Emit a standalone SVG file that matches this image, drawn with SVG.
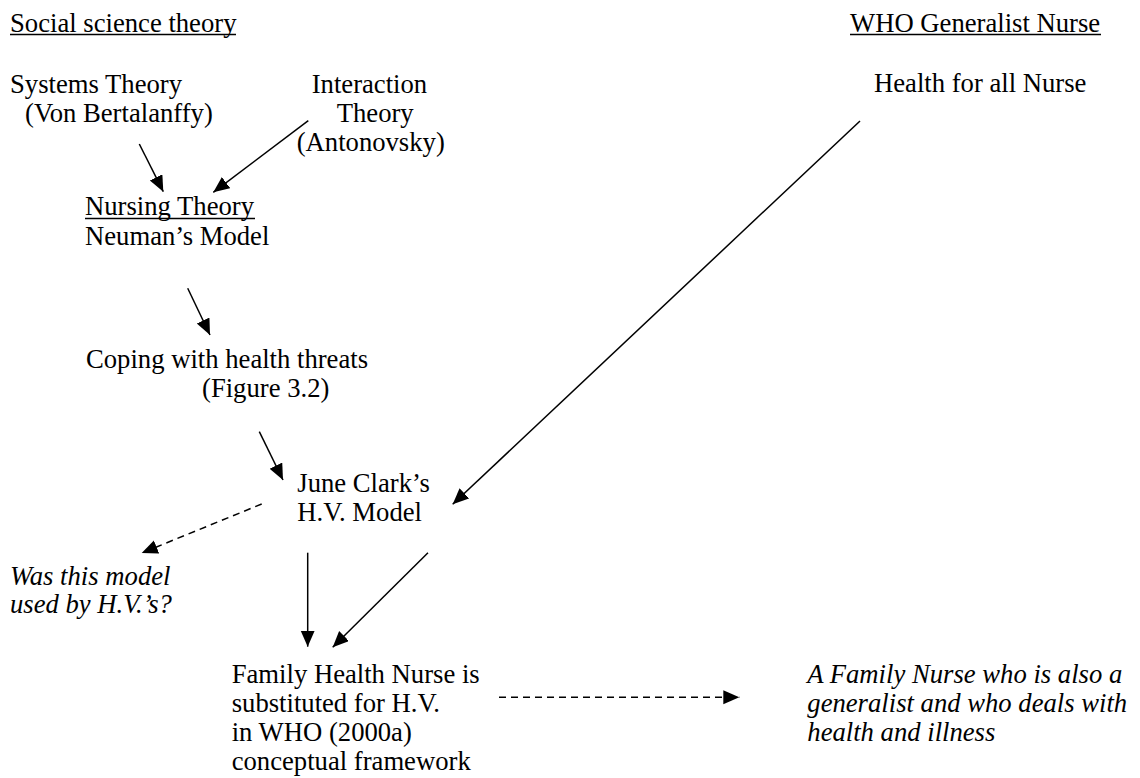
<svg xmlns="http://www.w3.org/2000/svg" width="1140" height="778" viewBox="0 0 1140 778">
<style>
text{font-family:"Liberation Serif","Times New Roman",serif;font-size:26.67px;fill:#000}
.it{font-style:italic}
.ul{stroke:#000;stroke-width:1.4}
.c{stroke:#000;stroke-width:1.5;fill:none}
.d{stroke-dasharray:7 5}
</style>
<defs>
<marker id="ah" markerUnits="userSpaceOnUse" markerWidth="18" markerHeight="16" refX="16" refY="7" orient="auto">
<path d="M0,0 L16,7 L0,14 Z" fill="#000"/>
</marker>
</defs>
<rect width="1140" height="778" fill="#fff"/>
<g id="social">
<text x="10" y="31.5">Social science theory</text>
<line class="ul" x1="10" y1="34.5" x2="236" y2="34.5"/>
</g>
<g id="who">
<text x="850" y="31.5">WHO Generalist Nurse</text>
<line class="ul" x1="850" y1="34.5" x2="1101" y2="34.5"/>
</g>
<g id="systems">
<text x="10" y="92.7">Systems Theory</text>
<text x="25" y="121.7">(Von Bertalanffy)</text>
</g>
<g id="interaction">
<text x="311.7" y="92.7">Interaction</text>
<text x="336.7" y="121.7">Theory</text>
<text x="296.7" y="150.7">(Antonovsky)</text>
</g>
<g id="healthforall">
<text x="874" y="91.5">Health for all Nurse</text>
</g>
<g id="nursing">
<text x="85" y="214.5">Nursing Theory</text>
<line class="ul" x1="85" y1="218.5" x2="255" y2="218.5"/>
<text x="85" y="245">Neuman’s Model</text>
</g>
<g id="coping">
<text x="86" y="368">Coping with health threats</text>
<text x="202" y="397">(Figure 3.2)</text>
</g>
<g id="june">
<text x="297.3" y="491.7">June Clark’s</text>
<text x="297.3" y="521.2">H.V. Model</text>
</g>
<g id="was">
<text class="it" x="10" y="585">Was this model</text>
<text class="it" x="10" y="612.5">used by H.V.’s?</text>
</g>
<g id="family">
<text x="231.7" y="682.7">Family Health Nurse is</text>
<text x="231.7" y="711.7">substituted for H.V.</text>
<text x="231.7" y="740.5">in WHO (2000a)</text>
<text x="231.7" y="769.5">conceptual framework</text>
</g>
<g id="familynurse">
<text class="it" x="807.3" y="682.7">A Family Nurse who is also a</text>
<text class="it" x="807.3" y="711.7">generalist and who deals with</text>
<text class="it" x="807.3" y="740.5">health and illness</text>
</g>
<g id="connectors">
<line class="c" x1="139.3" y1="144" x2="163.3" y2="191.7" marker-end="url(#ah)"/>
<line class="c" x1="308.3" y1="120.7" x2="213.3" y2="192.3" marker-end="url(#ah)"/>
<line class="c" x1="187.7" y1="288.3" x2="210" y2="335" marker-end="url(#ah)"/>
<line class="c" x1="259.3" y1="431.7" x2="283" y2="480" marker-end="url(#ah)"/>
<line class="c" x1="860" y1="121" x2="452.7" y2="504.3" marker-end="url(#ah)"/>
<line class="c d" x1="261.7" y1="504" x2="141.7" y2="553" marker-end="url(#ah)"/>
<line class="c" x1="307.7" y1="552.7" x2="307.7" y2="646.7" marker-end="url(#ah)"/>
<line class="c" x1="428" y1="552.7" x2="332.7" y2="647.3" marker-end="url(#ah)"/>
<line class="c d" x1="499" y1="697.3" x2="739.3" y2="697.3" marker-end="url(#ah)"/>
</g>
</svg>
